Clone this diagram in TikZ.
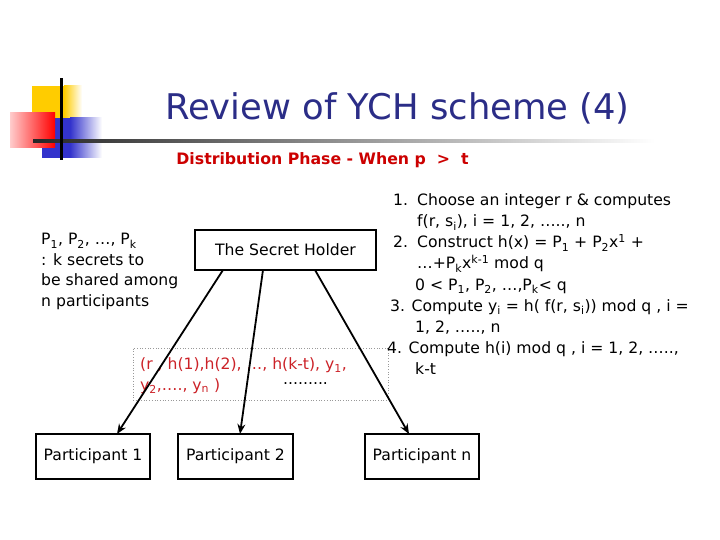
\documentclass[tikz,border=0pt]{standalone}
\usepackage{fontspec}
\setmainfont{DejaVu Sans}
\usetikzlibrary{arrows.meta}
\definecolor{titleblue}{RGB}{43,45,135}
\definecolor{subred}{RGB}{204,0,0}
\definecolor{boxred}{RGB}{204,34,40}
\definecolor{sqyellow}{RGB}{255,204,0}
\definecolor{sqblue}{RGB}{51,51,204}
\newcommand\fsz[1]{\fontsize{#1}{#1}\selectfont}
\begin{document}
\begin{tikzpicture}[x=1bp,y=-1bp,
  txt/.style={inner sep=0pt, anchor=base west, font=\fsz{15.7}},
  pbox/.style={draw, line width=1.2bp, minimum height=45bp, inner sep=0pt, font=\fsz{15.7}},
  conn/.style={line width=1.8bp, -{Stealth[length=10bp,width=8bp]}},
]
\useasboundingbox[fill=white] (0,0) rectangle (720,540);

% decoration
\fill[sqyellow] (32,86) rectangle (64,118);
\shade[left color=sqyellow, right color=white] (64,86) rectangle (82,118);
\fill[sqblue] (42,118) rectangle (70,158);
\shade[left color=sqblue, right color=white] (70,118) rectangle (102,158);
\shade[left color=red!20, right color=red] (10,113) rectangle (55,148);
\shade[left color=black!85, right color=white] (33,139.3) rectangle (655,142.7);
\fill[black] (60,78) rectangle (62.5,160);

% titles
\node[font=\fsz{35.5}, text=titleblue, anchor=base, inner sep=0pt] (title) at (397.5,120) {Review of YCH scheme (4)};
\node[font=\bfseries\fsz{15.8}, text=subred, anchor=base, inner sep=0pt] (sub) at (322.5,165) {Distribution Phase - When p\ \ >\ \ t};

% left text
\node[txt] (l1) at (41,245) {P\textsubscript{1}, P\textsubscript{2}, …, P\textsubscript{k}};
\node[txt] (l2) at (41,266) {: k secrets to};
\node[txt] (l3) at (41,286) {be shared among};
\node[txt] (l4) at (41,306) {n participants};

% boxes
\node[pbox, minimum width=181bp, minimum height=40bp] (holder) at (285.5,250) {The Secret Holder};
\node[pbox, minimum width=114bp] (p1) at (93,456.5) {Participant 1};
\node[pbox, minimum width=115bp] (p2) at (235.5,456.5) {Participant 2};
\node[pbox, minimum width=114bp] (pn) at (422,456.5) {Participant n};

% dotted box with shares
\node[draw=gray!80, dotted, line width=0.7bp, minimum width=255bp, minimum height=52bp, inner sep=0pt] (dbox) at (260.5,374) {};
\node[txt, text=boxred] (r1) at (140,369) {(r , h(1),h(2), …, h(k-t), y\textsubscript{1},};
\node[txt, text=boxred] (r2) at (140,390) {y\textsubscript{2},…., y\textsubscript{n} )};
\node[txt] (dots) at (283,384) {.........};

% connectors
\coordinate (s1) at (223,270);
\coordinate (s2) at (263,270);
\coordinate (s3) at (315,270);
\coordinate (e1) at (117,434);
\coordinate (e2) at (240,434);
\coordinate (e3) at (409,434);
\draw[conn] (s1) -- (e1);
\draw[conn] (s2) -- (e2);
\draw[conn] (s3) -- (e3);

% right list
\node[txt] (n1) at (393,206) {1.};
\node[txt] (a1) at (417,206) {Choose an integer r \& computes};
\node[txt] (a2) at (417,227) {f(r, s\textsubscript{i}), i = 1, 2, ….., n};
\node[txt] (n2) at (393,248) {2.};
\node[txt] (b1) at (417,248) {Construct h(x) = P\textsubscript{1} + P\textsubscript{2}x\textsuperscript{1} +};
\node[txt] (b2) at (417,269) {…+P\textsubscript{k}x\textsuperscript{k-1} mod q};
\node[txt] (b3) at (415,290) {0 < P\textsubscript{1}, P\textsubscript{2}, …,P\textsubscript{k}< q};
\node[txt] (c1) at (390,311) {3. Compute y\textsubscript{i} = h( f(r, s\textsubscript{i})) mod q , i =};
\node[txt] (c2) at (415,332) {1, 2, ….., n};
\node[txt] (d1) at (387,353) {4. Compute h(i) mod q , i = 1, 2, …..,};
\node[txt] (d2) at (415,374) {k-t};
\end{tikzpicture}
\end{document}
